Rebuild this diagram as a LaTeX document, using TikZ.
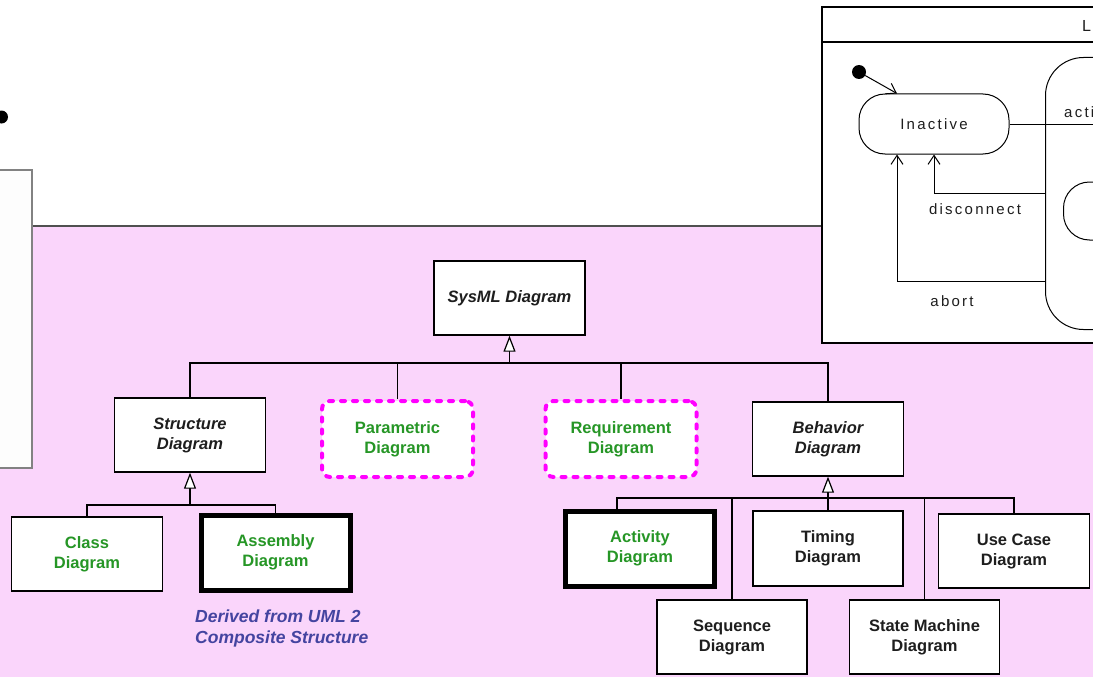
\documentclass[tikz,border=0pt]{standalone}
\usepackage{fontspec}
\setmainfont{Liberation Sans}
\newfontfamily\spacedfont[LetterSpace=15]{Liberation Sans}
\usetikzlibrary{arrows.meta}
\definecolor{pinkbg}{RGB}{250,213,251}
\definecolor{leafgreen}{RGB}{38,150,38}
\definecolor{notecolor}{RGB}{68,68,160}
\definecolor{dashmag}{RGB}{255,0,255}
\definecolor{framegray}{RGB}{130,130,130}
\definecolor{edgegray}{RGB}{80,80,80}
\definecolor{inktext}{RGB}{30,30,30}
\begin{document}
\begin{tikzpicture}[x=1pt,y=-1pt,
  boxfont/.style={font=\fontsize{16.5}{20}\selectfont\bfseries},
  box/.style={draw=black, line width=1.4pt, fill=white, inner sep=0pt, align=center,
    boxfont, text=inktext, minimum width=151, minimum height=74},
  abstractbox/.style={box, font=\fontsize{16.5}{20}\selectfont\bfseries\itshape},
  sysmlbox/.style={box, text=leafgreen},
  newbox/.style={box, draw=dashmag, line width=4pt, dash pattern=on 4pt off 8pt,
    line cap=round, rounded corners=8pt, text=leafgreen, minimum width=151, minimum height=76},
  heavybox/.style={box, line width=5pt, minimum width=149, minimum height=75},
  conn/.style={draw=black, line width=1.3pt},
  gen/.style={conn, -{Triangle[length=16pt, width=12pt, fill=white, line width=1.2pt]}},
  smline/.style={draw=black, line width=1pt},
  smarrow/.style={smline, -{Straight Barb[length=9pt, width=12pt, line width=1pt]}},
  smtext/.style={font=\spacedfont\fontsize{15}{18}\selectfont, text=inktext, inner sep=0pt},
]
\useasboundingbox (0,0) rectangle (1093,677);
\clip (0,0) rectangle (1093,677);

% pink panel with its top rule
\fill[pinkbg] (0,226) rectangle (1093,677);
\draw[edgegray, line width=1.5pt] (32,226) -- (1093,226);

% side panel on the left and the bullet above it
\draw[framegray, line width=2pt, fill={rgb,255:red,253;green,253;blue,253}] (-10,170) rectangle (32,468);
\fill (1.5,117) circle (6.5);

% ---------- state machine frame ----------
\draw[line width=2.8pt, fill=white] (822,7) rectangle (1120,343);
\draw[line width=1.3pt] (822,42) -- (1120,42);
\node[anchor=west, inner sep=0pt, font=\fontsize{16}{18}\selectfont, text=inktext] (smtitle) at (1082,26) {L};

\node[circle, fill=black, inner sep=0pt, minimum size=14] (init) at (859,72) {};
\node[draw, line width=1pt, rounded corners=26pt, minimum width=150, minimum height=60,
  inner sep=0pt, smtext] (inactive) at (934,124) {Inactive};
\node[draw, line width=1pt, rounded corners=38pt, minimum width=140, minimum height=272,
  anchor=west, inner sep=0pt] (active) at (1045,193.5) {};
\node[draw, line width=1pt, rounded corners=26pt, minimum width=100, minimum height=58,
  anchor=west, inner sep=0pt] (inner) at (1063,211) {};
\node[smtext, anchor=west] (activelabel) at (1064,112) {acti};

\coordinate (activeexit) at (1110,124);
\draw[smarrow] (init) -- ([xshift=-37pt]inactive.north);
\draw[smline] (inactive.east) -- (activeexit);
\draw[smarrow] (active.west) -| (inactive.south);
\draw[smarrow] ([yshift=-88pt]active.west) -| ([xshift=-37pt]inactive.south);
\node[smtext] (disclabel) at (975,209) {disconnect};
\node[smtext] (abortlabel) at (952,301) {abort};

% ---------- SysML diagram taxonomy ----------
\node[abstractbox] (sysml) at (509.5,298) {SysML Diagram};

\node[abstractbox] (structure) at (190,435) {Structure\\Diagram};
\node[newbox] (param) at (397.5,439) {Parametric\\Diagram};
\node[newbox] (req) at (621,439) {Requirement\\Diagram};
\node[abstractbox] (behavior) at (828,439) {Behavior\\Diagram};

\node[sysmlbox] (class) at (87,554) {Class\\Diagram};
\node[heavybox, text=leafgreen] (assembly) at (275.5,552.5) {Assembly\\Diagram};

\node[heavybox, text=leafgreen] (activity) at (640,548.5) {Activity\\Diagram};
\node[box, minimum width=150, minimum height=75] (timing) at (828,548.5) {Timing\\Diagram};
\node[box] (usecase) at (1014,551) {Use Case\\Diagram};
\node[box, minimum width=150] (sequence) at (732,637) {Sequence\\Diagram};
\node[box, minimum width=150] (statemachine) at (924.5,637) {State Machine\\Diagram};

\node[anchor=north west, align=left, inner sep=0pt, text=notecolor,
  font=\fontsize{17.5}{21}\selectfont\bfseries\itshape] (note) at (195,610)
  {Derived from UML 2\\Composite Structure};

% generalisation tree under SysML Diagram
\coordinate (topbar) at (509.5,363);
\draw[gen] (topbar) -- (sysml.south);
\draw[conn] (structure.north) |- (topbar) -| (behavior.north);
\draw[conn] (param.north) -- (param.north |- topbar);
\draw[conn] (req.north) -- (req.north |- topbar);

% structure branch
\coordinate (sbar) at (190,505);
\draw[gen] (sbar) -- (structure.south);
\draw[conn] (class.north) |- (sbar) -| (assembly.north);

% behaviour branch
\coordinate (bbar) at (828,498);
\draw[gen] (bbar) -- (behavior.south);
\draw[conn] ([xshift=-23pt]activity.north) |- (bbar) -| (usecase.north);
\draw[conn] (sequence.north) -- (sequence.north |- bbar);
\draw[conn] (timing.north) -- (timing.north |- bbar);
\draw[conn] (statemachine.north) -- (statemachine.north |- bbar);
\end{tikzpicture}
\end{document}
